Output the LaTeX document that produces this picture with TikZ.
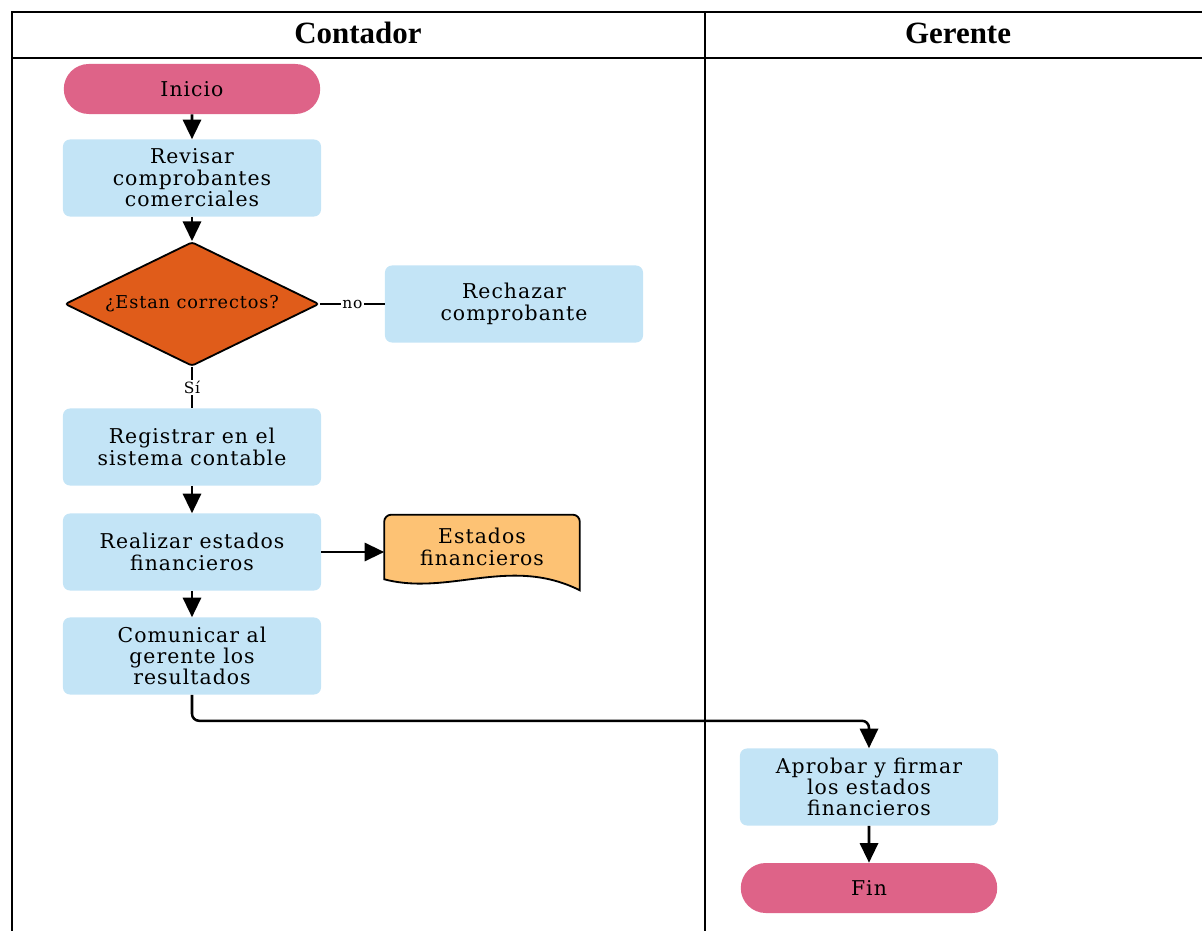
\documentclass[tikz,border=0pt]{standalone}
\usepackage{fontspec}
\setmainfont{Liberation Serif}
\newfontfamily\flowfont{DejaVu Serif}[LetterSpace=5]
\usetikzlibrary{arrows.meta,positioning,shapes.geometric,shapes.misc,backgrounds,calc}
\definecolor{cterm}{HTML}{DE6388}
\definecolor{cproc}{HTML}{C3E4F6}
\definecolor{cdec}{HTML}{E05C1A}
\definecolor{cdoc}{HTML}{FDC274}
\tikzset{
  lane/.style={line width=1.4pt},
  head/.style={font=\fontsize{22}{26}\selectfont\bfseries},
  box/.style={minimum width=6.45cm, minimum height=1.925cm, align=center, inner sep=2pt, font=\flowfont\fontsize{14.5}{15.2}\selectfont, text=black},
  procn/.style={box, rounded corners=5pt, fill=cproc},
  termn/.style={box, rounded rectangle, fill=cterm, minimum width=6.55cm, minimum height=1.25cm},
  decn/.style={box, diamond, aspect=2.05, fill=cdec, draw=black, line width=1.3pt, inner sep=0pt, minimum width=6.35cm, minimum height=3.1cm, rounded corners=2pt, font=\flowfont\fontsize{12.6}{13}\selectfont},
  docn/.style={box, minimum width=4.875cm, minimum height=1.6cm},
  docline/.style={draw=black, line width=1.3pt, fill=cdoc},
  pre/.style={-{Triangle[length=14pt, width=13pt]}, line width=1.8pt},
  link/.style={line width=1.8pt},
  lbl/.style={font=\flowfont\fontsize{11}{11}\selectfont, fill=white, inner sep=1pt},
}
\begin{document}
\begin{tikzpicture}[x=0.025cm, y=-0.025cm]
\useasboundingbox (0,0) rectangle (1202,931);
\draw[lane] (12,931) -- (12,12) -- (1202,12);
\draw[lane] (12,58) -- (1202,58);
\draw[lane] (705,12) -- (705,931);
\node[head] (contador) at (358,33) {Contador};
\node[head] (gerente) at (958,33) {Gerente};
\node[termn] (inicio) at (192,89) {Inicio};
\node[procn] (revisar) at (192,178) {Revisar\\comprobantes\\comerciales};
\node[decn] (correctos) at (192,304) {¿Estan correctos?};
\node[procn] (rechazar) at (514,304) {Rechazar\\comprobante};
\node[procn] (registrar) at (192,447) {Registrar en el\\sistema contable};
\node[procn] (realizar) at (192,552) {Realizar estados\\financieros};
\node[docn] (estados) at (482,547) {Estados\\financieros};
\node[procn] (comunicar) at (192,656) {Comunicar al\\gerente los\\resultados};
\node[procn] (aprobar) at (869,787) {Aprobar y firmar\\los estados\\financieros};
\node[termn] (fin) at (869,888) {Fin};
\begin{scope}[on background layer]
\draw[docline] (estados.south west) [rounded corners=5pt] -- (estados.north west) -- (estados.north east) [sharp corners] -- ($(estados.south east)+(0,11)$) .. controls +(-70,-35) and +(65,17) .. (estados.south west) -- cycle;
\end{scope}
\draw[pre] (inicio) -- (revisar);
\draw[pre] (revisar) -- (correctos);
\draw[link] (correctos) -- node[lbl] {no} (rechazar);
\draw[link] (correctos) -- node[lbl] {Sí} (registrar);
\draw[pre] (registrar) -- (realizar);
\draw[pre] (realizar) -- (realizar.east -| estados.west);
\draw[pre] (realizar) -- (comunicar);
\draw[pre, rounded corners=5pt] (comunicar.south) -- ++(0,26) -| (aprobar.north);
\draw[pre] (aprobar) -- (fin);
\end{tikzpicture}
\end{document}
